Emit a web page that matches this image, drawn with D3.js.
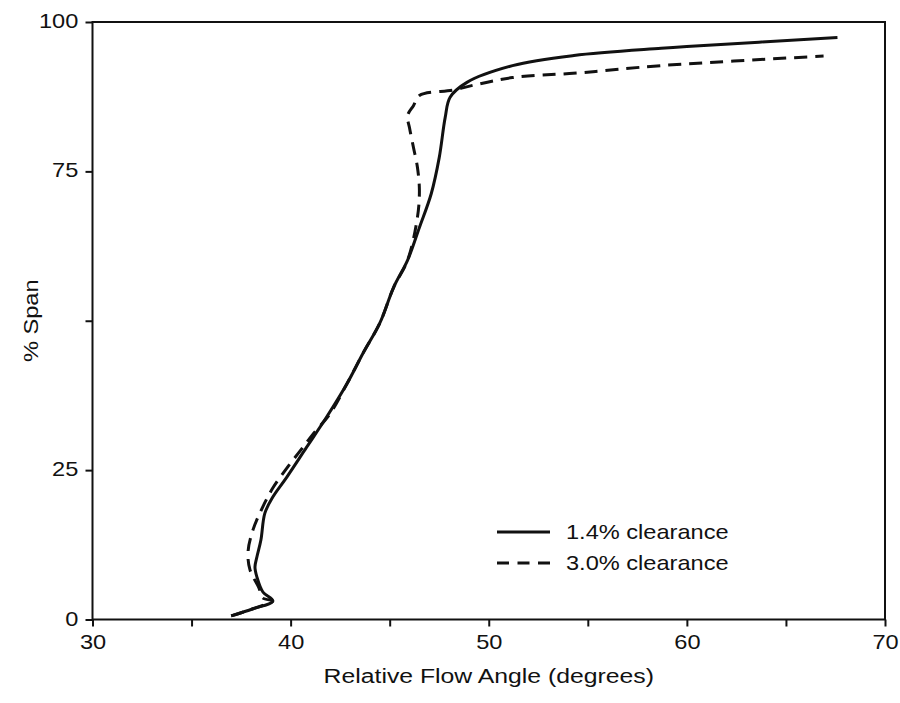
<!DOCTYPE html>
<html>
<head>
<meta charset="utf-8">
<script src="https://cdn.jsdelivr.net/npm/d3@7"></script>
<style>
  html, body { margin: 0; padding: 0; background: #fff; }
  svg text { font-family: "Liberation Sans", Arial, sans-serif; fill: #111; }
</style>
</head>
<body>
<svg id="chart" width="900" height="703"></svg>
<script>
// Relative flow angle (degrees) against % span for two tip clearances
const angle14 = [37.0, 38.1, 39.1, 38.6, 38.3, 38.2, 38.3, 38.5, 38.7, 39.1, 39.8, 40.8, 41.8, 42.85,
                 43.66, 44.5, 45.2, 45.9, 46.5, 47.1, 47.5, 47.8, 48.05, 48.9, 51.2, 54.3, 58.7, 60.0, 67.6];
const span14  = [0.6, 1.8, 3.1, 4.6, 7.1, 8.8, 10.5, 13.3, 17.8, 20.5, 23.8, 28.8, 33.8, 39.5,
                 44.6, 49.6, 55.6, 60.1, 65.6, 71.3, 77.3, 84.0, 87.4, 89.9, 92.7, 94.4, 95.6, 95.9, 97.4];

const angle30 = [37.0, 38.1, 39.1, 38.6, 38.4, 37.95, 37.85, 38.1, 38.56, 39.1, 39.8, 40.5, 41.1, 42.0,
                 42.85, 43.66, 44.5, 45.2, 45.9, 46.4, 46.5, 46.4, 46.2, 46.0, 45.9, 46.2, 46.5, 48.2,
                 49.2, 51.2, 54.6, 58.7, 66.9];
const span30  = [0.6, 1.8, 3.1, 3.6, 5.3, 8.3, 11.3, 15.0, 18.6, 22.0, 25.3, 28.3, 30.9, 34.5,
                 39.5, 44.6, 49.6, 55.6, 60.1, 67.3, 71.8, 75.7, 79.0, 82.3, 84.3, 86.0, 87.7, 88.6,
                 89.4, 90.7, 91.5, 92.7, 94.3];

const xTicks = [30, 40, 50, 60, 70];
const xMinorTicks = [35, 45, 55, 65];
const yTicks = [0, 25, 50, 75, 100];
const yTickLabels = ["0", "25", "", "75", "100"];

const seriesNames = ["1.4% clearance", "3.0% clearance"];

const svg = d3.select("#chart");
const plot = { left: 92.5, right: 885, top: 22, bottom: 619.5 };
const stretch = "scale(1.18,1)";   // the lettering is a little wide

const x = d3.scaleLinear().domain([30, 70]).range([plot.left, plot.right]);
const y = d3.scaleLinear().domain([0, 100]).range([plot.bottom, plot.top]);

// Frame
svg.append("rect")
  .attr("x", plot.left).attr("y", plot.top)
  .attr("width", plot.right - plot.left).attr("height", plot.bottom - plot.top)
  .attr("fill", "none").attr("stroke", "#111").attr("stroke-width", 2);

// Bottom axis: major ticks with labels, minor ticks without
const xAxis = svg.append("g").attr("transform", `translate(0,${plot.bottom})`)
  .call(d3.axisBottom(x).tickValues(xTicks).tickSize(7).tickPadding(8).tickFormat(d3.format("d")));
svg.append("g").attr("transform", `translate(0,${plot.bottom})`)
  .call(d3.axisBottom(x).tickValues(xMinorTicks).tickSize(7).tickFormat(""));

// Left axis
const yAxis = svg.append("g").attr("transform", `translate(${plot.left},0)`)
  .call(d3.axisLeft(y).tickValues(yTicks).tickSize(7).tickPadding(5)
    .tickFormat((d, i) => yTickLabels[i]));

svg.selectAll(".domain").remove();
svg.selectAll(".tick line").attr("stroke", "#111").attr("stroke-width", 2);
svg.selectAll(".tick text").attr("font-size", 20).attr("fill", "#111")
  .attr("font-family", "'Liberation Sans', Arial, sans-serif")
  .attr("transform", stretch);
yAxis.selectAll(".tick text").attr("dy", "0.28em");

// Text helper: positioned group holding horizontally widened text
function label(px, py, str, opts = {}) {
  const g = svg.append("g").attr("transform", `translate(${px},${py})` + (opts.rotate ? " rotate(-90)" : ""));
  return g.append("text")
    .attr("transform", stretch)
    .attr("text-anchor", opts.anchor || "start")
    .attr("dy", opts.dy || 0)
    .attr("font-size", opts.size || 20)
    .text(str);
}

// Axis titles
label((plot.left + plot.right) / 2, 683, "Relative Flow Angle (degrees)", { anchor: "middle", size: 21 });
label(38, (plot.top + plot.bottom) / 2, "% Span", { anchor: "middle", size: 20, rotate: true });

// Curves
const line = d3.line()
  .x(d => x(d[0])).y(d => y(d[1]))
  .curve(d3.curveCatmullRom.alpha(0.5));

const pts14 = angle14.map((a, i) => [a, span14[i]]);
const pts30 = angle30.map((a, i) => [a, span30[i]]);

svg.append("path").datum(pts30)
  .attr("d", line).attr("fill", "none")
  .attr("stroke", "#111").attr("stroke-width", 3)
  .attr("stroke-dasharray", "13,8");

svg.append("path").datum(pts14)
  .attr("d", line).attr("fill", "none")
  .attr("stroke", "#111").attr("stroke-width", 3);

// Legend
const dashes = [null, "12,8.5"];
seriesNames.forEach((name, i) => {
  const ly = 532 + i * 31;
  svg.append("line").attr("x1", 497).attr("x2", 550).attr("y1", ly).attr("y2", ly)
    .attr("stroke", "#111").attr("stroke-width", 3)
    .attr("stroke-dasharray", dashes[i]);
  label(566, ly, name, { dy: "0.36em", size: 20 });
});
</script>
</body>
</html>
